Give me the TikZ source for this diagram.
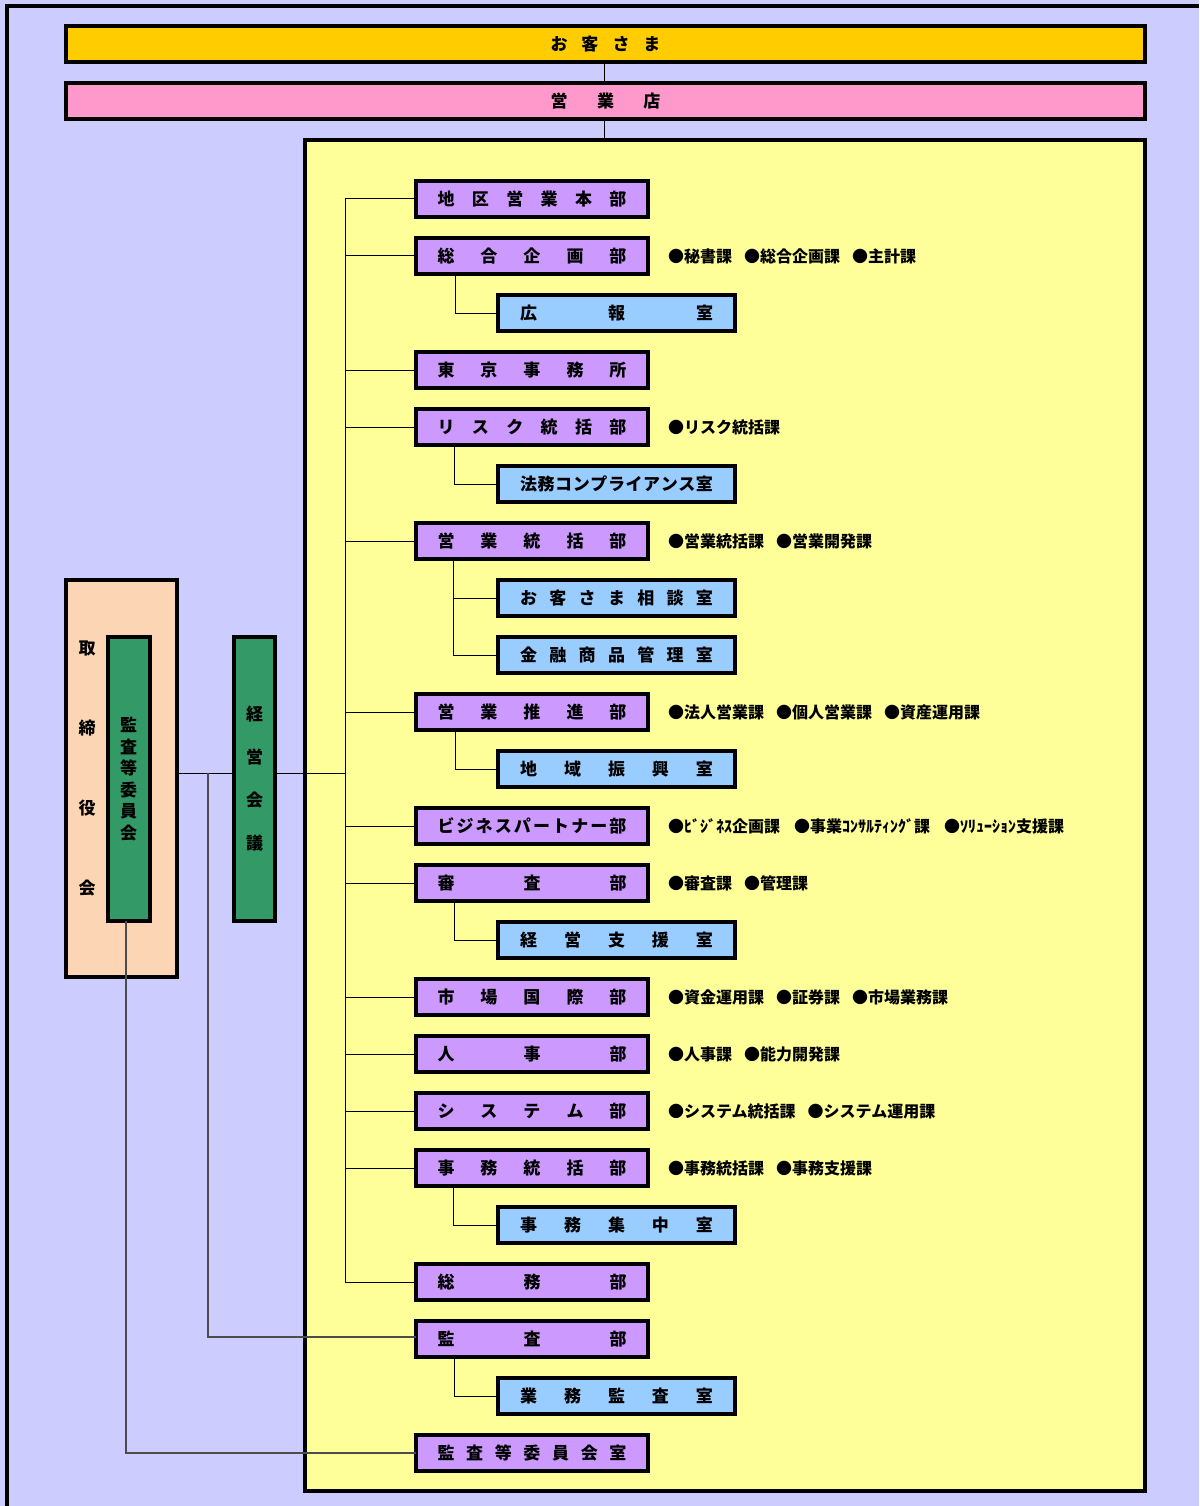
\documentclass[tikz,border=0pt]{standalone}
\usepackage{fontspec}
\newfontfamily\jp{Noto Sans CJK JP}
\definecolor{pagebg}{HTML}{CCCCFF}
\definecolor{custc}{HTML}{FFCC00}
\definecolor{branchc}{HTML}{FF99CC}
\definecolor{hqc}{HTML}{FFFF99}
\definecolor{deptc}{HTML}{CC99FF}
\definecolor{officec}{HTML}{99CCFF}
\definecolor{boardc}{HTML}{FCD5B4}
\definecolor{councilc}{HTML}{339966}
\makeatletter
% spread the characters of #2 evenly over a box of width #1
\newcommand\dist[2]{\hbox to #1{\def\dc@sep{}\@tfor\dc@c:=#2\do{\dc@sep\dc@c\def\dc@sep{\hfil}}}}
\makeatother
\newcommand\boxfont{\jp\bfseries\fontsize{17}{17}\selectfont}
\newcommand\notefont{\jp\bfseries\fontsize{16}{16}\selectfont}
\newcommand\gap{\hspace{12pt}}
\tikzset{
  box/.style={draw, line width=4pt, inner sep=0pt, outer sep=0pt, font=\boxfont},
  dept/.style={box, fill=deptc, minimum width=232pt, minimum height=36pt},
  office/.style={box, fill=officec, minimum width=237pt, minimum height=36pt},
  note/.style={anchor=west, font=\notefont, inner sep=0pt},
  link/.style={line width=1pt},
  glink/.style={line width=1.2pt, draw=black!70},
  vtext/.style={font=\jp\bfseries\fontsize{17}{#1}\selectfont, align=center, inner sep=0pt}
}
\begin{document}
\begin{tikzpicture}[x=1pt, y=-1pt]
\useasboundingbox (0,0) rectangle (1199,1506);
\fill[pagebg] (0,0) rectangle (1199,1506);
\draw[line width=4pt] (7,1506) -- (7,6) -- (1199,6);

% top bars and head office frame
\node[box, fill=custc, minimum width=1079pt, minimum height=36pt] (cust) at (605.5,44) {\dist{110pt}{お客さま}};
\node[box, fill=branchc, minimum width=1079pt, minimum height=36pt] (branch) at (605.5,101) {\dist{110pt}{営業店}};
\node[box, fill=hqc, minimum width=840pt, minimum height=1351pt] (hq) at (725,815.5) {};
\draw[link] (cust.south -| 604,0) -- (branch.north -| 604,0);
\draw[link] (branch.south -| 604,0) -- (hq.north -| 604,0);

% board side
\node[box, fill=boardc, minimum width=111pt, minimum height=397pt] (board) at (121.5,778.5) {};
\node[vtext=80] (boardlabel) at (87,768) {取\\締\\役\\会};
\node[box, fill=councilc, minimum width=42pt, minimum height=284pt] (audit) at (129,779) {};
\node[vtext=21.6] (auditlabel) at (128.5,779) {監\\査\\等\\委\\員\\会};
\node[box, fill=councilc, minimum width=41pt, minimum height=284pt] (mgmt) at (254.5,779) {};
\node[vtext=43] (mgmtlabel) at (254.5,778.5) {経\\営\\会\\議};

% departments and offices
\node[dept]   (chiku)   at (532,199)    {\dist{189pt}{地区営業本部}};
\node[dept]   (sogo)    at (532,256)    {\dist{189pt}{総合企画部}};
\node[office] (koho)    at (616.5,313)  {\dist{193pt}{広報室}};
\node[dept]   (tokyo)   at (532,370)    {\dist{189pt}{東京事務所}};
\node[dept]   (risk)    at (532,427)    {\dist{189pt}{リスク統括部}};
\node[office] (homu)    at (616.5,484)  {\dist{193pt}{法務コンプライアンス室}};
\node[dept]   (eigyo)   at (532,541)    {\dist{189pt}{営業統括部}};
\node[office] (sodan)   at (616.5,598)  {\dist{193pt}{お客さま相談室}};
\node[office] (kinyu)   at (616.5,655)  {\dist{193pt}{金融商品管理室}};
\node[dept]   (suishin) at (532,712)    {\dist{189pt}{営業推進部}};
\node[office] (chiiki)  at (616.5,769)  {\dist{193pt}{地域振興室}};
\node[dept]   (bp)      at (532,826)    {\dist{189pt}{ビジネスパートナー部}};
\node[dept]   (shinsa)  at (532,883)    {\dist{189pt}{審査部}};
\node[office] (shien)   at (616.5,940)  {\dist{193pt}{経営支援室}};
\node[dept]   (shijo)   at (532,997)    {\dist{189pt}{市場国際部}};
\node[dept]   (jinji)   at (532,1054)   {\dist{189pt}{人事部}};
\node[dept]   (system)  at (532,1111)   {\dist{189pt}{システム部}};
\node[dept]   (jimu)    at (532,1168)   {\dist{189pt}{事務統括部}};
\node[office] (shuchu)  at (616.5,1225) {\dist{193pt}{事務集中室}};
\node[dept]   (somu)    at (532,1282)   {\dist{189pt}{総務部}};
\node[dept]   (kansa)   at (532,1339)   {\dist{189pt}{監査部}};
\node[office] (gyomu)   at (616.5,1396) {\dist{193pt}{業務監査室}};
\node[dept]   (iinshitsu) at (532,1453) {\dist{189pt}{監査等委員会室}};

% sections of each department
\node[note] (sogo-n)    at ([xshift=20pt]sogo.east)    {●秘書課\gap●総合企画課\gap●主計課};
\node[note] (risk-n)    at ([xshift=20pt]risk.east)    {●リスク統括課};
\node[note] (eigyo-n)   at ([xshift=20pt]eigyo.east)   {●営業統括課\gap●営業開発課};
\node[note] (suishin-n) at ([xshift=20pt]suishin.east) {●法人営業課\gap●個人営業課\gap●資産運用課};
\node[note] (bp-n)      at ([xshift=20pt]bp.east)      {●ﾋﾞｼﾞﾈｽ企画課\hspace{14pt}●事業ｺﾝｻﾙﾃｨﾝｸﾞ課\hspace{14pt}●ｿﾘｭｰｼｮﾝ支援課};
\node[note] (shinsa-n)  at ([xshift=20pt]shinsa.east)  {●審査課\gap●管理課};
\node[note] (shijo-n)   at ([xshift=20pt]shijo.east)   {●資金運用課\gap●証券課\gap●市場業務課};
\node[note] (jinji-n)   at ([xshift=20pt]jinji.east)   {●人事課\gap●能力開発課};
\node[note] (system-n)  at ([xshift=20pt]system.east)  {●システム統括課\gap●システム運用課};
\node[note] (jimu-n)    at ([xshift=20pt]jimu.east)    {●事務統括課\gap●事務支援課};

% trunk line of the head office
\coordinate (tr) at (345,0);
\coordinate (bus) at (208,773);
\draw[link] (tr |- chiku.west) -- (tr |- somu.west);
\foreach \d in {chiku,sogo,tokyo,risk,eigyo,suishin,bp,shinsa,shijo,jinji,system,jimu,somu}
  \draw[link] (tr |- \d.west) -- (\d.west);

% offices under their departments
\draw[link] ([xshift=39pt]sogo.south west) |- (koho.west);
\draw[link] ([xshift=38pt]risk.south west) |- (homu.west);
\draw[link] ([xshift=37pt]eigyo.south west) |- (kinyu.west);
\draw[link] ([xshift=37pt]eigyo.south west |- sodan.west) -- (sodan.west);
\draw[link] ([xshift=39pt]suishin.south west) |- (chiiki.west);
\draw[link] ([xshift=38pt]shinsa.south west) |- (shien.west);
\draw[link] ([xshift=37pt]jimu.south west) |- (shuchu.west);
\draw[link] ([xshift=38pt]kansa.south west) |- (gyomu.west);

% board, councils and audit lines
\draw[link] (board.east |- bus) -- (mgmt.west |- bus);
\draw[link] (mgmt.east |- bus) -- (tr |- bus);
\draw[glink] (bus) |- ([yshift=2pt]kansa.west);
\draw[glink] ([xshift=-3pt]audit.south) |- (iinshitsu.west);
\end{tikzpicture}
\end{document}
